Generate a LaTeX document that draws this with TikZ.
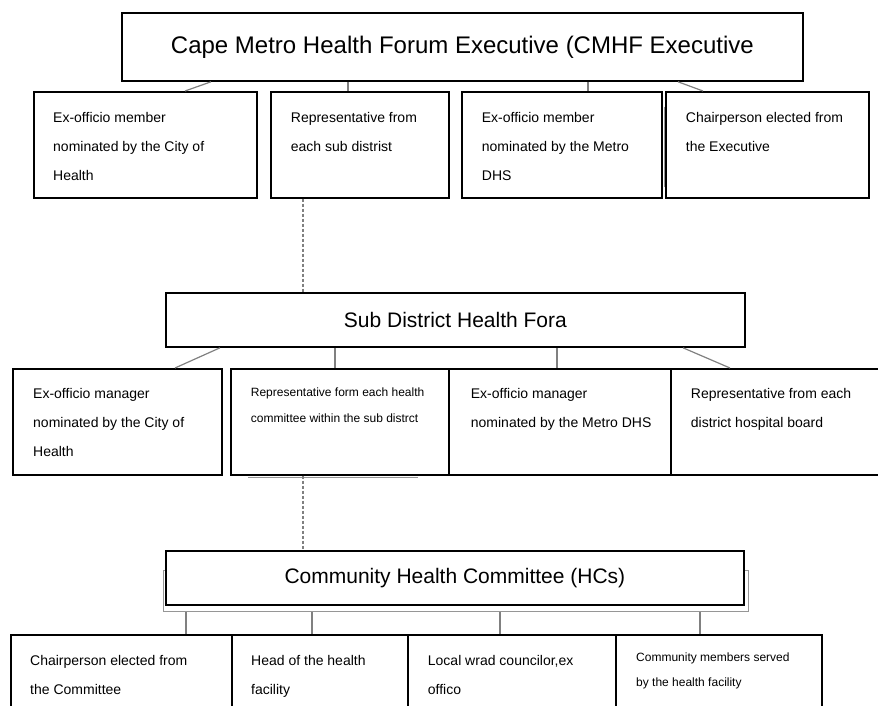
\documentclass[tikz,border=0pt]{standalone}
\usepackage{fontspec}
\setmainfont{Liberation Sans}
\usepackage{xcolor}
\usepackage{tikz}
\usetikzlibrary{positioning}
\definecolor{linkgray}{RGB}{128,128,128}
\definecolor{shadegray}{RGB}{150,150,150}

\begin{document}
\begin{tikzpicture}[
  x=1pt, y=-1pt,
  tier/.style={draw, line width=1.8pt, anchor=north west, inner sep=0pt, fill=white, font=\fontsize{21}{25}\selectfont},
  member/.style={draw, line width=1.6pt, anchor=north west, inner sep=0pt, minimum height=106pt, fill=white},
  memo/.style={anchor=north west, align=left, inner sep=0pt, font=\fontsize{14}{29}\selectfont},
  memosmall/.style={memo, font=\fontsize{12}{26}\selectfont},
  link/.style={draw=linkgray, line width=1.2pt},
  dashlink/.style={link, dash pattern=on 3pt off 2pt}
]
\useasboundingbox (0,0) rectangle (878,706);
\clip (0,0) rectangle (878,706);

\node[tier, minimum width=681pt, minimum height=68pt, font=\fontsize{24}{28}\selectfont] (cmhf) at (121,12) {Cape Metro Health Forum Executive (CMHF Executive};

\node[member, minimum width=223pt] (ex1) at (33,91) {};
\node[member, minimum width=178pt] (rep) at (270,91) {};
\node[member, minimum width=200pt] (exm) at (461,91) {};
\node[member, minimum width=203pt] (chair) at (665,91) {};
\node[memo] (ex1t) at ([shift={(20pt,-21pt)}]ex1.north west) {Ex-officio member\\nominated by the City of\\Health};
\node[memo] (rept) at ([shift={(20.7pt,-21pt)}]rep.north west) {Representative from\\each sub distrist};
\node[memo] (exmt) at ([shift={(20.7pt,-21pt)}]exm.north west) {Ex-officio member\\nominated by the Metro\\DHS};
\node[memo] (chairt) at ([shift={(20.7pt,-21pt)}]chair.north west) {Chairperson elected from\\the Executive};
\draw[draw=shadegray, line width=0.6pt] ([shift={(2pt,-16pt)}]exm.north east) -- ([shift={(2pt,12pt)}]exm.south east);

\draw[link] ([xshift=90pt]cmhf.south west) -- ([xshift=152pt]ex1.north west);
\draw[link] ([xshift=227pt]cmhf.south west) -- ([xshift=78pt]rep.north west);
\draw[link] ([xshift=467pt]cmhf.south west) -- ([xshift=127pt]exm.north west);
\draw[link] ([xshift=557pt]cmhf.south west) -- ([xshift=38pt]chair.north west);

\node[tier, minimum width=579pt, minimum height=54pt] (sub) at (165,292) {Sub District Health Fora};
\draw[dashlink] ([xshift=33pt]rep.south west) -- ([xshift=138pt]sub.north west);

\node[member, minimum width=209pt] (mex1) at (12,368) {};
\node[member, minimum width=218pt] (hc) at (230,368) {};
\node[member, minimum width=222pt] (mex2) at (448,368) {};
\node[member, minimum width=230pt] (hosp) at (670,368) {};
\node[memo] (mex1t) at ([shift={(21pt,-20pt)}]mex1.north west) {Ex-officio manager\\nominated by the City of\\Health};
\node[memosmall] (hct) at ([shift={(20.7pt,-19.4pt)}]hc.north west) {Representative form each health\\committee within the sub distrct};
\node[memo] (mex2t) at ([shift={(22.7pt,-20pt)}]mex2.north west) {Ex-officio manager\\nominated by the Metro DHS};
\node[memo] (hospt) at ([shift={(20.7pt,-20pt)}]hosp.north west) {Representative from each\\district hospital board};
\draw[draw=shadegray, line width=1.4pt] ([shift={(18pt,-2pt)}]hc.south west) -- ([shift={(188pt,-2pt)}]hc.south west);

\draw[link] ([xshift=55pt]sub.south west) -- ([xshift=163pt]mex1.north west);
\draw[link] ([xshift=170pt]sub.south west) -- ([xshift=105pt]hc.north west);
\draw[link] ([xshift=392pt]sub.south west) -- ([xshift=109pt]mex2.north west);
\draw[link] ([xshift=518pt]sub.south west) -- ([xshift=60pt]hosp.north west);

\node[draw=shadegray, line width=1.4pt, anchor=north west, inner sep=0pt, minimum width=585pt, minimum height=41pt] (chcshade) at (163,570) {};
\node[tier, minimum width=578pt, minimum height=54pt] (chc) at (165,550) {Community Health Committee (HCs)};
\draw[dashlink] ([xshift=73pt]hc.south west) -- ([xshift=138pt]chc.north west);

\node[member, minimum width=221pt] (chair2) at (10,634) {};
\node[member, minimum width=176pt] (headfac) at (231,634) {};
\node[member, minimum width=208pt] (ward) at (407,634) {};
\node[member, minimum width=206pt] (comm) at (615,634) {};
\node[memo] (chair2t) at ([shift={(20pt,-21pt)}]chair2.north west) {Chairperson elected from\\the Committee};
\node[memo] (headfact) at ([shift={(20pt,-21pt)}]headfac.north west) {Head of the health\\facility};
\node[memo] (wardt) at ([shift={(20.7pt,-21pt)}]ward.north west) {Local wrad councilor,ex\\offico};
\node[memosmall, font=\fontsize{12}{25}\selectfont] (commt) at ([shift={(21pt,-18.7pt)}]comm.north west) {Community members served\\by the health facility};

\draw[link] ([xshift=23pt]chcshade.south west) -- ([xshift=176pt]chair2.north west);
\draw[link] ([xshift=149pt]chcshade.south west) -- ([xshift=81pt]headfac.north west);
\draw[link] ([xshift=337pt]chcshade.south west) -- ([xshift=93pt]ward.north west);
\draw[link] ([xshift=537pt]chcshade.south west) -- ([xshift=85pt]comm.north west);
\end{tikzpicture}
\end{document}
